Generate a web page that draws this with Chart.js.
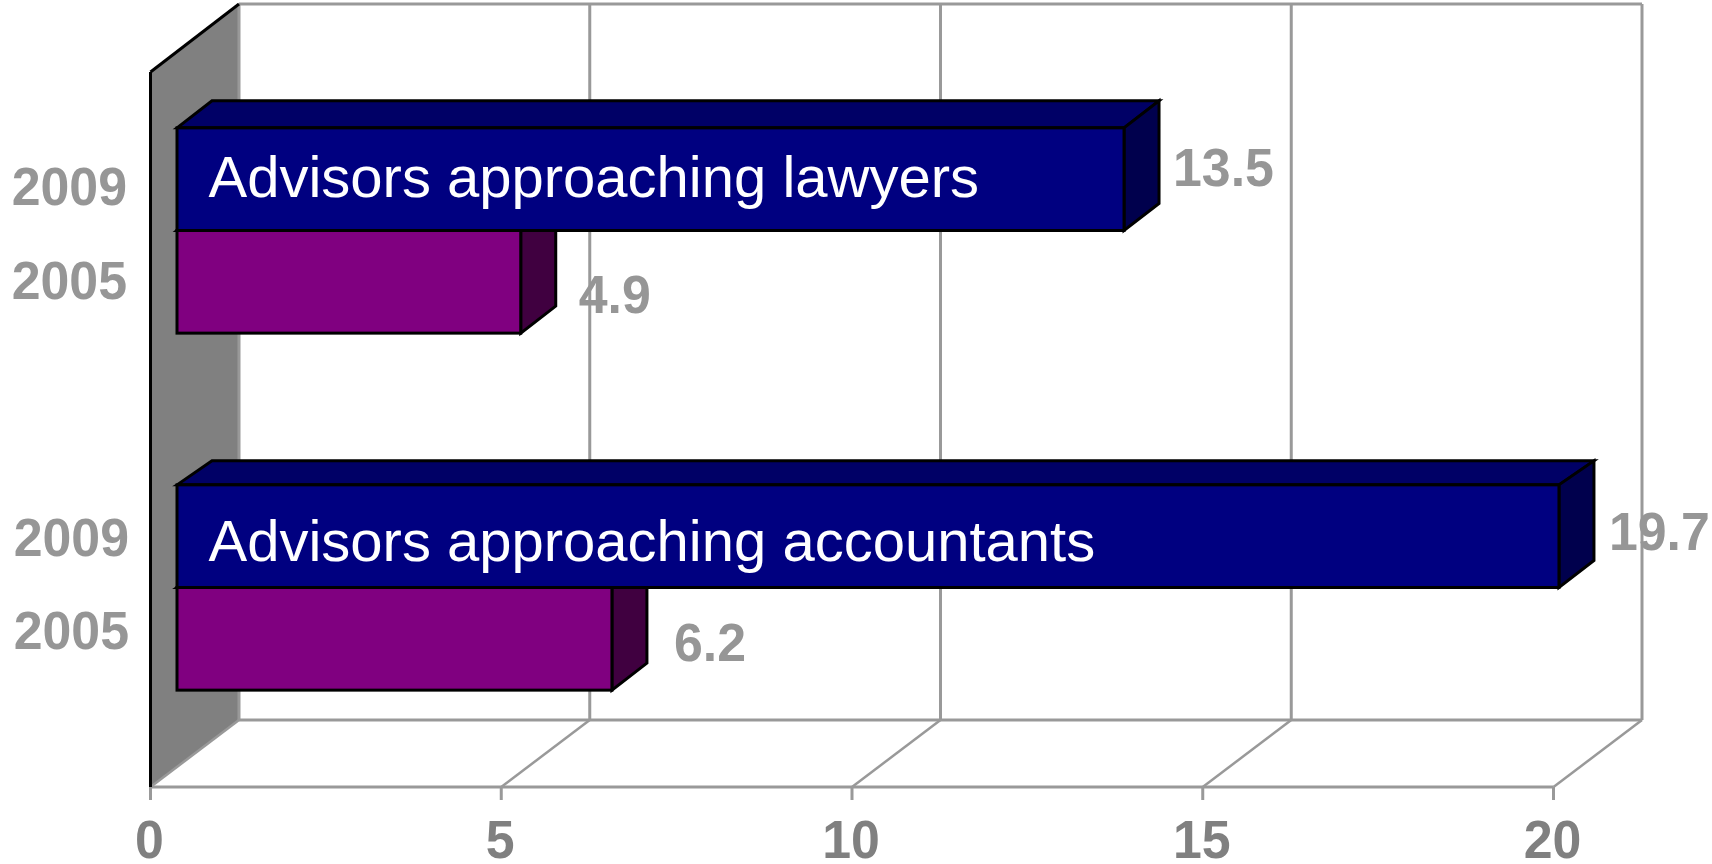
<!DOCTYPE html>
<html>
<head>
<meta charset="utf-8">
<style>
  html, body { margin: 0; padding: 0; background: #fff; }
  canvas { display: block; }
</style>
<script src="https://cdn.jsdelivr.net/npm/chart.js@4"></script>
</head>
<body>
<canvas id="advisorsChart" width="1712" height="864"></canvas>
<script>
const categories = ['Advisors approaching lawyers', 'Advisors approaching accountants'];
const years = ['2009', '2005'];
const series2009 = [13.5, 19.7];
const series2005 = [4.9, 6.2];
const xTicks = [0, 5, 10, 15, 20];

// 3D look: how far the walls and bars sit from the bar plane
const barDepth = { x: 35, y: -27 };
const topRise = [-27, -24];
const front = { x: -26.5, y: 21 };
const back = { x: 62, y: -46 };
const topFront = 20;
const topBack = -48;

// hand placed label offsets, [dataset][category]
const valueNudge = [[{ x: 49, y: 7 }, { x: 50, y: 14 }], [{ x: 58, y: 31 }, { x: 62, y: 22 }]];
const yearNudge = [[{ x: 127, y: 26 }, { x: 129, y: 20 }], [{ x: 127, y: 17 }, { x: 129, y: 10 }]];
const titleBaseline = [18, 25];

const gridColor = '#999999';
const faces = [
  { top: '#000066', side: '#00004d' },
  { top: '#660066', side: '#400040' }
];

function poly(ctx, pts, fill, stroke, width) {
  ctx.beginPath();
  pts.forEach((p, i) => i ? ctx.lineTo(p[0], p[1]) : ctx.moveTo(p[0], p[1]));
  ctx.closePath();
  if (fill) { ctx.fillStyle = fill; ctx.fill(); }
  if (stroke) { ctx.strokeStyle = stroke; ctx.lineWidth = width; ctx.stroke(); }
}

function line(ctx, x1, y1, x2, y2, color, width) {
  ctx.beginPath();
  ctx.moveTo(x1, y1);
  ctx.lineTo(x2, y2);
  ctx.strokeStyle = color;
  ctx.lineWidth = width;
  ctx.stroke();
}

function label(ctx, text, x, y, color, align) {
  ctx.save();
  ctx.translate(x, y);
  ctx.scale(0.96, 1);
  ctx.font = 'bold 54px "Liberation Sans"';
  ctx.fillStyle = color;
  ctx.textAlign = align;
  ctx.textBaseline = 'alphabetic';
  ctx.fillText(text, 0, 0);
  ctx.restore();
}

const walls = {
  id: 'walls',
  beforeDatasetsDraw(chart) {
    const { ctx, chartArea: area, scales: { x } } = chart;
    const frontBottom = area.bottom + front.y;
    const backBottom = area.bottom + back.y;
    const frontTop = area.top + topFront;
    const backTop = area.top + topBack;
    const x0 = x.getPixelForValue(xTicks[0]);
    const xEnd = x.getPixelForValue(xTicks[xTicks.length - 1]);

    ctx.save();
    ctx.lineCap = 'butt';
    poly(ctx, [[x0 + front.x, frontTop], [x0 + back.x, backTop], [x0 + back.x, backBottom], [x0 + front.x, frontBottom]], '#808080');

    xTicks.forEach(v => {
      const px = x.getPixelForValue(v);
      line(ctx, px + back.x, backTop, px + back.x, backBottom, gridColor, 3);
      line(ctx, px + back.x, backBottom, px + front.x, frontBottom, gridColor, 2.5);
      line(ctx, px + front.x, frontBottom, px + front.x, frontBottom + 13, gridColor, 3);
      label(ctx, String(v), px + front.x - 1, frontBottom + 71, '#808080', 'center');
    });
    line(ctx, x0 + back.x, backTop, xEnd + back.x, backTop, gridColor, 3);
    line(ctx, x0 + back.x, backBottom, xEnd + back.x, backBottom, gridColor, 3);
    line(ctx, x0 + front.x, frontBottom, xEnd + front.x, frontBottom, gridColor, 3);

    line(ctx, x0 + front.x, frontBottom, x0 + front.x, frontTop, '#000', 3);
    line(ctx, x0 + front.x, frontTop, x0 + back.x, backTop, '#000', 3);

    // top and side faces, the front faces are the library's bars on top of these
    [1, 0].forEach(d => {
      chart.getDatasetMeta(d).data.forEach((bar, i) => {
        const left = bar.base;
        const right = bar.x;
        const top = bar.y - bar.height / 2;
        const bottom = bar.y + bar.height / 2;
        const dx = barDepth.x;
        const rise = topRise[i];
        poly(ctx, [[left, top], [left + dx, top + rise], [right + dx, top + rise], [right, top]], faces[d].top, '#000', 3);
        poly(ctx, [[right, top], [right + dx, top + rise], [right + dx, bottom + barDepth.y], [right, bottom]], faces[d].side, '#000', 3);
      });
    });
    ctx.restore();
  },
  afterDatasetsDraw(chart) {
    const { ctx } = chart;
    ctx.save();
    // outlines centred on the bar edges, the library would inset them
    [1, 0].forEach(d => {
      chart.getDatasetMeta(d).data.forEach(bar => {
        ctx.strokeStyle = '#000';
        ctx.lineWidth = 3;
        ctx.strokeRect(bar.base, bar.y - bar.height / 2, bar.x - bar.base, bar.height);
      });
    });
    [0, 1].forEach(d => {
      chart.getDatasetMeta(d).data.forEach((bar, i) => {
        const value = chart.data.datasets[d].data[i];
        const vn = valueNudge[d][i];
        const yn = yearNudge[d][i];
        label(ctx, value.toFixed(1), bar.x + vn.x, bar.y + vn.y, '#969696', 'left');
        label(ctx, chart.data.datasets[d].label, yn.x, bar.y + yn.y, '#969696', 'right');
        if (d === 0) {
          ctx.font = '58px "Liberation Sans"';
          ctx.fillStyle = '#ffffff';
          ctx.textAlign = 'left';
          ctx.textBaseline = 'alphabetic';
          ctx.fillText(categories[i], bar.base + 31.5, bar.y + titleBaseline[i]);
        }
      });
    });
    ctx.restore();
  }
};

new Chart(document.getElementById('advisorsChart').getContext('2d'), {
  type: 'bar',
  data: {
    labels: categories,
    datasets: [
      { label: years[0], data: series2009, backgroundColor: '#000080', borderWidth: 0 },
      { label: years[1], data: series2005, backgroundColor: '#800080', borderWidth: 0 }
    ]
  },
  options: {
    indexAxis: 'y',
    responsive: false,
    animation: false,
    layout: { padding: { left: 177, right: 132, top: 52, bottom: 98 } },
    datasets: { bar: { barPercentage: 1, categoryPercentage: 0.575 } },
    plugins: { legend: { display: false }, tooltip: { enabled: false } },
    scales: {
      x: { display: false, min: 0, max: 20, ticks: { stepSize: 5 } },
      y: { display: false }
    }
  },
  plugins: [walls]
});
</script>
</body>
</html>
